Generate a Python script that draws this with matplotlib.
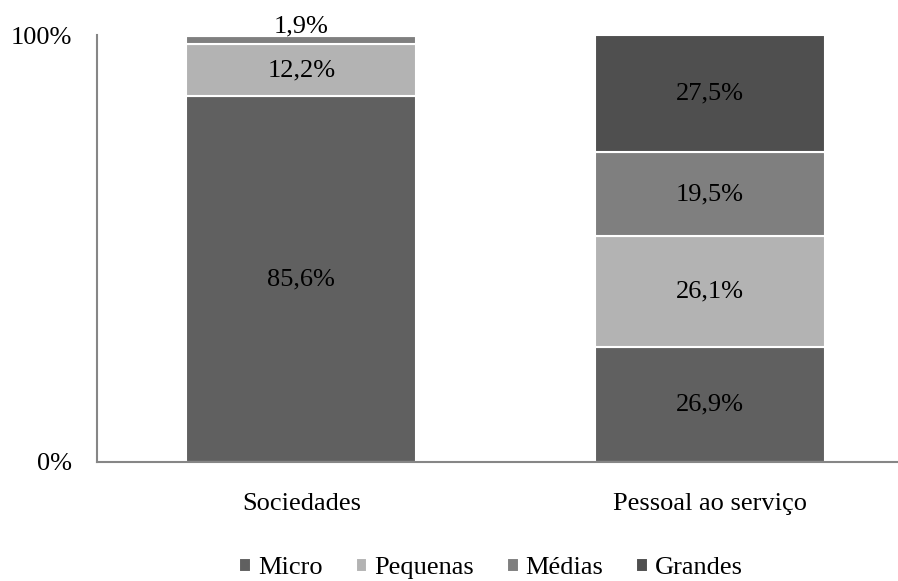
import matplotlib
matplotlib.use("Agg")
import matplotlib.pyplot as plt
import numpy as np

plt.rcParams['font.family'] = ['Liberation Serif', 'DejaVu Serif']

categories = ['Sociedades', 'Pessoal ao serviço']
series = ['Micro', 'Pequenas', 'Médias', 'Grandes']
values = {
    'Micro': [85.6, 26.9],
    'Pequenas': [12.2, 26.1],
    'Médias': [1.9, 19.5],
    'Grandes': [0.3, 27.5],
}
labels = {
    'Micro': ['85,6%', '26,9%'],
    'Pequenas': ['12,2%', '26,1%'],
    'Médias': ['1,9%', '19,5%'],
    'Grandes': ['', '27,5%'],
}
colors = {'Micro': '#606060', 'Pequenas': '#b3b3b3', 'Médias': '#7f7f7f', 'Grandes': '#4f4f4f'}

fig = plt.figure(figsize=(8.98, 5.81), dpi=100)
ax = fig.add_axes([97/898, 1 - 462/581, 801/898, 427/581])

x = np.array([0.01, 1.03])
bottom = np.zeros(len(categories))
for s in series:
    v = np.array(values[s])
    ax.bar(x, v, 0.575, bottom=bottom, color=colors[s], edgecolor='white',
           linewidth=1.5, label=s, zorder=2)
    for i, t in enumerate(labels[s]):
        if not t:
            continue
        yc = bottom[i] + v[i] / 2
        if v[i] < 5:
            yc = 101.9
        ax.text(x[i], yc, t, ha='center', va='center', fontsize=19, color='black', zorder=3)
    bottom += v

ax.set_xlim(-0.5, 1.5)
ax.set_ylim(0, 100)
ax.set_yticks([0, 100])
ax.set_yticklabels(['0%', '100%'], fontsize=19)
ax.set_xticks(x)
ax.set_xticklabels(categories, fontsize=19)
ax.tick_params(axis='y', length=0, pad=18)
ax.tick_params(axis='x', length=0, pad=22)
for sp in ['top', 'right']:
    ax.spines[sp].set_visible(False)
for sp in ['left', 'bottom']:
    ax.spines[sp].set_color('#868686')
    ax.spines[sp].set_linewidth(1.5)
    ax.spines[sp].set_zorder(4)

fig.legend(loc='center', bbox_to_anchor=(491/898, 1 - 568/581), ncol=4, frameon=False,
           fontsize=19, handlelength=0.45, handleheight=0.45, handletextpad=0.25,
           columnspacing=1.25)

fig.savefig('out.png', dpi=100)
